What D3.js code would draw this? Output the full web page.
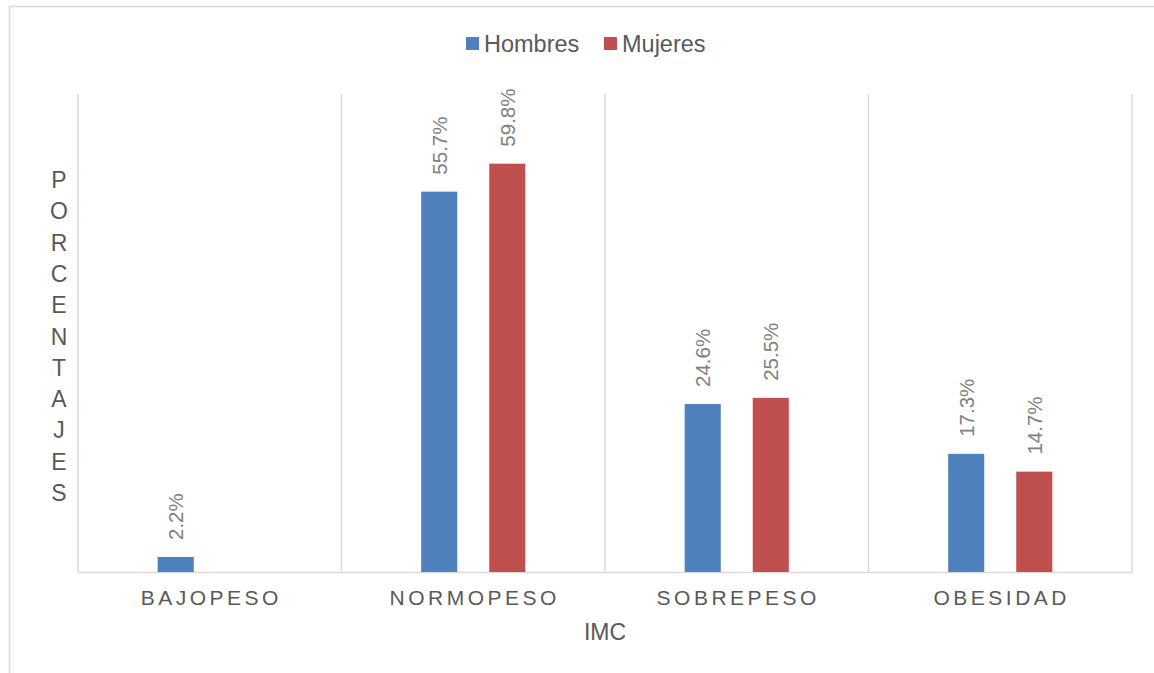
<!DOCTYPE html>
<html>
<head>
<meta charset="utf-8">
<script src="https://cdn.jsdelivr.net/npm/d3@7"></script>
<style>
	body { margin: 0; background: #fff; }
	svg { display: block; font-family: "Liberation Sans", Arial, sans-serif; }
</style>
</head>
<body>
<svg></svg>
<script>
const categories = ["BAJOPESO", "NORMOPESO", "SOBREPESO", "OBESIDAD"];
const seriesNames = ["Hombres", "Mujeres"];
const hombres = [2.2, 55.7, 24.6, 17.3];
const mujeres = [null, 59.8, 25.5, 14.7];
const seriesColors = ["#4f81bd", "#c0504d"];
const yTitle = "PORCENTAJES";
const xTitle = "IMC";

const svgWidth = 1154;
const svgHeight = 673;
const plot = {left: 78, right: 1132, top: 94, bottom: 572};

const svg = d3.select("svg")
	.attr("width", svgWidth)
	.attr("height", svgHeight);

// chart border (runs past right and bottom edges)
svg.append("rect")
	.attr("x", 9.5).attr("y", 6.5)
	.attr("width", 1200).attr("height", 700)
	.attr("fill", "none")
	.attr("stroke", "#d9d9d9")
	.attr("stroke-width", 1.5);

const xScale = d3.scaleBand()
	.domain(categories)
	.range([plot.left, plot.right]);

const xInner = d3.scaleBand()
	.domain(seriesNames)
	.range([0, xScale.bandwidth()])
	.paddingInner(0.47)
	.paddingOuter(1.17);

const yScale = d3.scaleLinear()
	.domain([0, 70])
	.range([plot.bottom, plot.top]);

// vertical gridlines at category boundaries
const bounds = categories.map(c => xScale(c)).concat([plot.right]);
svg.append("g")
	.selectAll("line")
	.data(bounds)
	.enter()
	.append("line")
		.attr("x1", d => d).attr("x2", d => d)
		.attr("y1", plot.top).attr("y2", plot.bottom)
		.attr("stroke", "#d9d9d9")
		.attr("stroke-width", 1.5);

// x axis
let xAxis = d3.axisBottom(xScale).tickSize(0).tickPadding(0);
let gx = svg.append("g")
	.attr("transform", `translate(0, ${plot.bottom})`)
	.call(xAxis);
gx.select(".domain").attr("stroke", "#d9d9d9").attr("stroke-width", 1.5);
gx.selectAll("text")
	.attr("y", 33)
	.attr("dy", 0)
	.attr("dx", "1.5px")
	.attr("fill", "#595959")
	.attr("font-size", "21px")
	.attr("letter-spacing", "3.5px")
	.attr("font-family", "Liberation Sans, Arial, sans-serif");

// data
const table = categories.map((c, i) => ({cat: c, values: [
	{name: seriesNames[0], value: hombres[i]},
	{name: seriesNames[1], value: mujeres[i]}
]}));

let groups = svg.append("g")
	.selectAll("g")
	.data(table)
	.enter()
	.append("g")
		.attr("transform", d => `translate(${xScale(d.cat)}, 0)`);

let cells = groups.selectAll("g")
	.data(d => d.values.filter(v => v.value != null))
	.enter()
	.append("g");

cells.append("rect")
	.attr("x", d => xInner(d.name))
	.attr("width", xInner.bandwidth())
	.attr("y", d => yScale(d.value))
	.attr("height", d => yScale(0) - yScale(d.value))
	.attr("fill", d => seriesColors[seriesNames.indexOf(d.name)]);

// rotated value labels
cells.append("text")
	.text(d => d.value.toFixed(1) + "%")
	.attr("transform", d => `translate(${xInner(d.name) + xInner.bandwidth() / 2}, ${yScale(d.value) - 17}) rotate(-90)`)
	.attr("dy", "0.36em")
	.attr("font-size", "20.5px")
	.attr("fill", "#808080");

// legend
const legendX = [466, 604];
let legend = svg.append("g")
	.selectAll("g")
	.data(seriesNames)
	.enter()
	.append("g")
		.attr("transform", (d, i) => `translate(${legendX[i]}, 0)`);
legend.append("rect")
	.attr("x", 0).attr("y", 37)
	.attr("width", 13).attr("height", 13)
	.attr("fill", (d, i) => seriesColors[i]);
legend.append("text")
	.text(d => d)
	.attr("x", 18).attr("y", 52)
	.attr("font-size", "23.5px")
	.attr("fill", "#595959");

// y axis title, stacked letters
svg.append("g")
	.selectAll("text")
	.data(yTitle.split(""))
	.enter()
	.append("text")
		.text(d => d)
		.attr("x", 59)
		.attr("y", (d, i) => 188 + i * 31.3)
		.attr("text-anchor", "middle")
		.attr("font-size", "23px")
		.attr("fill", "#595959");

// x axis title
svg.append("text")
	.text(xTitle)
	.attr("x", (plot.left + plot.right) / 2)
	.attr("y", 640)
	.attr("text-anchor", "middle")
	.attr("font-size", "23px")
	.attr("fill", "#595959");
</script>
</body>
</html>
